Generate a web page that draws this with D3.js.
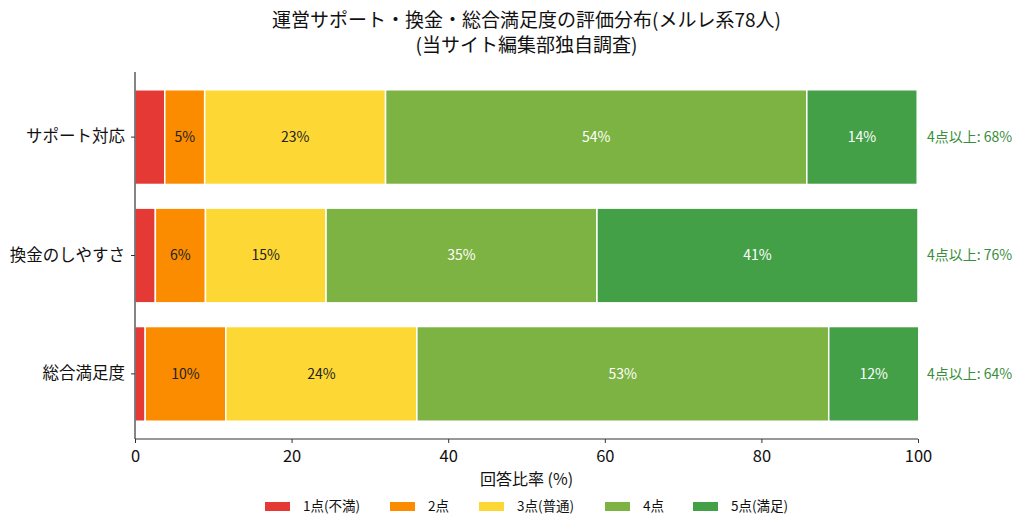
<!DOCTYPE html>
<html lang="ja">
<head>
    <meta charset="UTF-8">
    <title>評価分布</title>
    <script src="https://d3js.org/d3.v7.min.js"></script>
    <style>
        body { margin: 0; background: #fff; }
        text { font-family: "Noto Sans CJK JP", "Noto Sans", sans-serif; }
    </style>
</head>
<body>
<script type="text/javascript">
    // data (percent of 78 respondents)
    var categories = ["サポート対応", "換金のしやすさ", "総合満足度"];
    var seriesNames = ["1点(不満)", "2点", "3点(普通)", "4点", "5点(満足)"];
    var score1 = [3.8, 2.6, 1.3];
    var score2 = [5.1, 6.4, 10.3];
    var score3 = [23.1, 15.4, 24.4];
    var score4 = [53.8, 34.6, 52.6];
    var score5 = [14.1, 41.0, 11.5];
    var topTwo = [68, 76, 64];
    var xTicks = [0, 20, 40, 60, 80, 100];
    var colors = ["#e53935", "#fb8c00", "#fdd835", "#7cb342", "#43a047"];
    var labelColors = ["#222", "#222", "#222", "#fff", "#fff"];

    var svgWidth = 1024, svgHeight = 529;
    var plotLeft = 135, plotRight = 918, plotTop = 72, plotBottom = 439;

    var svg = d3.select("body").append("svg")
        .attr("width", svgWidth)
        .attr("height", svgHeight);

    var xScale = d3.scaleLinear().domain([0, 100]).range([plotLeft, plotRight]);
    var yScale = d3.scaleBand().domain(categories).range([plotTop, plotBottom])
        .paddingInner(0.2).paddingOuter(0.15);

    var series = [score1, score2, score3, score4, score5];
    var rows = categories.map(function (c, i) {
        var row = {cat: c};
        seriesNames.forEach(function (s, j) { row[s] = series[j][i]; });
        return row;
    });
    var stacked = d3.stack().keys(seriesNames)(rows);

    var groups = svg.selectAll("g.layer")
        .data(stacked)
        .enter()
        .append("g")
        .attr("class", "layer")
        .attr("fill", function (d, i) { return colors[i]; });

    groups.selectAll("rect")
        .data(function (d) { return d; })
        .enter()
        .append("rect")
        .attr("x", function (d) { return xScale(d[0]); })
        .attr("y", function (d) { return yScale(d.data.cat); })
        .attr("width", function (d) { return xScale(d[1]) - xScale(d[0]); })
        .attr("height", yScale.bandwidth())
        .attr("stroke", "#fff")
        .attr("stroke-width", 1.5);

    // percent labels inside the wider segments
    groups.each(function (layer, i) {
        d3.select(this).selectAll("text")
            .data(layer.filter(function (d) { return d[1] - d[0] >= 4; }))
            .enter()
            .append("text")
            .attr("x", function (d) { return xScale((d[0] + d[1]) / 2); })
            .attr("y", function (d) { return yScale(d.data.cat) + yScale.bandwidth() / 2; })
            .attr("dy", "0.35em")
            .attr("text-anchor", "middle")
            .attr("font-size", "14px")
            .attr("fill", labelColors[i])
            .text(function (d) { return Math.round(d[1] - d[0]) + "%"; });
    });

    // 4点以上 annotations
    svg.selectAll("text.top2")
        .data(categories)
        .enter()
        .append("text")
        .attr("class", "top2")
        .attr("x", xScale(100) + 9)
        .attr("y", function (d) { return yScale(d) + yScale.bandwidth() / 2; })
        .attr("dy", "0.35em")
        .attr("font-size", "14px")
        .attr("fill", "#388e3c")
        .text(function (d, i) { return "4点以上: " + topTwo[i] + "%"; });

    // axes
    var xAxis = d3.axisBottom(xScale).tickValues(xTicks).tickSize(4).tickPadding(7);
    var gx = svg.append("g")
        .attr("transform", "translate(0," + plotBottom + ")")
        .call(xAxis);
    gx.selectAll("text").attr("font-size", "16.5px").attr("fill", "#111");

    var yAxis = d3.axisLeft(yScale).tickSize(4).tickPadding(6);
    var gy = svg.append("g")
        .attr("transform", "translate(" + plotLeft + ",0)")
        .call(yAxis);
    gy.selectAll("text").attr("font-size", "16.5px").attr("fill", "#111");

    svg.selectAll(".domain").attr("stroke", "#333").attr("stroke-width", 1.2);
    gy.select(".domain").attr("d", "M0," + plotTop + "V" + plotBottom);
    gx.select(".domain").attr("d", "M" + plotLeft + ",0H" + plotRight);
    svg.selectAll(".tick line").attr("stroke", "#333");

    // axis title
    svg.append("text")
        .attr("x", (plotLeft + plotRight) / 2)
        .attr("y", 485)
        .attr("text-anchor", "middle")
        .attr("font-size", "16px")
        .attr("fill", "#111")
        .text("回答比率 (%)");

    // title
    svg.append("text")
        .attr("x", (plotLeft + plotRight) / 2)
        .attr("y", 27)
        .attr("text-anchor", "middle")
        .attr("font-size", "19px")
        .attr("fill", "#111")
        .text("運営サポート・換金・総合満足度の評価分布(メルレ系78人)");
    svg.append("text")
        .attr("x", (plotLeft + plotRight) / 2)
        .attr("y", 52)
        .attr("text-anchor", "middle")
        .attr("font-size", "19px")
        .attr("fill", "#111")
        .text("(当サイト編集部独自調査)");

    // legend
    var legendX = [265, 390, 479, 605, 693];
    var legend = svg.selectAll("g.legend")
        .data(seriesNames)
        .enter()
        .append("g")
        .attr("class", "legend")
        .attr("transform", function (d, i) { return "translate(" + legendX[i] + ",506)"; });
    legend.append("rect")
        .attr("x", 0).attr("y", -4)
        .attr("width", 25).attr("height", 9)
        .attr("fill", function (d, i) { return colors[i]; });
    legend.append("text")
        .attr("x", 38)
        .attr("dy", "0.35em")
        .attr("font-size", "13.5px")
        .attr("fill", "#111")
        .text(function (d) { return d; });
</script>
</body>
</html>
